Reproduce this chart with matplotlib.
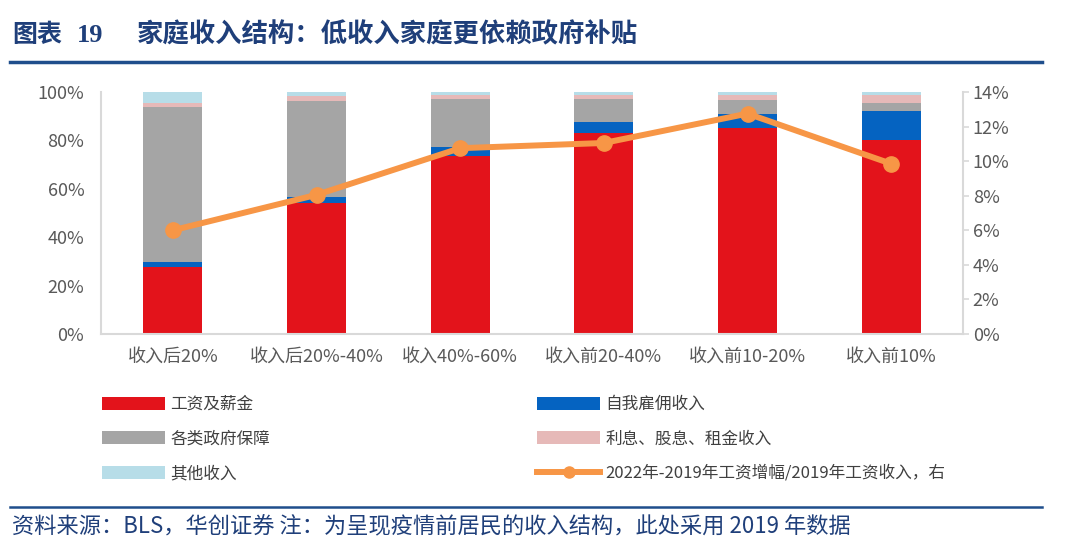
import matplotlib
matplotlib.use("Agg")
import matplotlib.pyplot as plt
from matplotlib.patches import Patch
from matplotlib.lines import Line2D
from matplotlib.ticker import PercentFormatter
import numpy as np

plt.rcParams['font.family'] = ['Liberation Sans Narrow', 'Noto Sans CJK SC', 'DejaVu Sans']

categories = ['收入后20%', '收入后20%-40%', '收入40%-60%', '收入前20-40%', '收入前10-20%', '收入前10%']
wages = [27.6, 54.0, 73.6, 82.9, 85.3, 80.2]
self_employ = [2.0, 2.7, 3.8, 4.8, 5.6, 12.1]
gov = [64.3, 39.7, 19.6, 9.5, 5.8, 3.3]
interest = [1.4, 2.1, 1.8, 1.7, 2.1, 3.2]
other = [4.7, 1.5, 1.2, 1.1, 1.2, 1.2]
wage_growth = [6.0, 8.05, 10.75, 11.05, 12.75, 9.85]

series_names = ['工资及薪金', '自我雇佣收入', '各类政府保障', '利息、股息、租金收入', '其他收入']
line_name = '2022年-2019年工资增幅/2019年工资收入，右'
colors = ['#e3131b', '#0563c1', '#a5a5a5', '#e6b9b8', '#b7dde8']
line_color = '#f79646'
tick_color = '#595959'
spine_color = '#d9d9d9'
navy = '#1f3f7a'

fig = plt.figure(figsize=(10.8, 5.55), dpi=100)
ax = fig.add_axes([101/1080, 1-334/555, (963-101)/1080, (334-92)/555])
x = np.arange(len(categories))
bottom = np.zeros(len(categories))
handles = []
for vals, c, n in zip([wages, self_employ, gov, interest, other], colors, series_names):
    ax.bar(x, vals, bottom=bottom, width=0.41, color=c, edgecolor='none', zorder=2)
    bottom += np.array(vals)
    handles.append(Patch(facecolor=c, edgecolor='none', label=n))

ax.set_xlim(-0.5, len(categories) - 0.5)
ax.set_ylim(0, 100)
ax.set_yticks(np.arange(0, 101, 20))
ax.yaxis.set_major_formatter(PercentFormatter(decimals=0))
ax.set_xticks(x)
ax.set_xticklabels(categories, fontsize=13, color=tick_color,
                   fontfamily=['Noto Sans CJK SC'])
ax.tick_params(axis='x', length=0, pad=10)
ax.tick_params(axis='y', labelsize=13, colors=tick_color, length=0, pad=12)
for s in ['top', 'right']:
    ax.spines[s].set_visible(False)
ax.spines['left'].set_color(spine_color)
ax.spines['left'].set_linewidth(1.5)
ax.spines['bottom'].set_color(spine_color)
ax.spines['bottom'].set_linewidth(1.5)

ax2 = ax.twinx()
ax2.plot(x, wage_growth, color=line_color, lw=4.3, marker='o', markersize=11, zorder=5)
ax2.set_ylim(0, 14)
ax2.set_yticks(np.arange(0, 15, 2))
ax2.yaxis.set_major_formatter(PercentFormatter(decimals=0))
ax2.tick_params(axis='y', labelsize=13, colors=tick_color, length=4, width=1.2,
                pad=3)
ax2.tick_params(axis='y', color=spine_color)
for s in ['top', 'left', 'bottom']:
    ax2.spines[s].set_visible(False)
ax2.spines['right'].set_color(spine_color)
ax2.spines['right'].set_linewidth(1.5)

line_handle = Line2D([0], [0], color=line_color, lw=4.3, marker='o', markersize=8,
                     label=line_name)

leg_kw = dict(frameon=False, handlelength=3.8, handleheight=0.8,
              handletextpad=0.3, labelspacing=1.05, borderpad=0, borderaxespad=0,
              prop={'family': ['Noto Sans CJK SC'], 'size': 12})
l1 = fig.legend(handles=[handles[0], handles[2], handles[4]], loc='upper left',
                bbox_to_anchor=(102/1080, 1-396/555), **leg_kw)
l2 = fig.legend(handles=[handles[1], handles[3], line_handle], loc='upper left',
                bbox_to_anchor=(537/1080, 1-396/555), **leg_kw)
for l in (l1, l2):
    for t in l.get_texts():
        t.set_color('#404040')

# title
fig.text(12/1080, 1-35/555, '图表', fontsize=18, fontweight='bold', color=navy,
         fontfamily=['Noto Sans CJK SC'], va='center', ha='left')
fig.text(77/1080, 1-35/555, '19', fontsize=19, fontweight='bold', color=navy,
         fontfamily=['Liberation Serif'], va='center', ha='left')
fig.text(137/1080, 1-35/555, '家庭收入结构：低收入家庭更依赖政府补贴', fontsize=19,
         fontweight='bold', color=navy, fontfamily=['Noto Sans CJK SC'],
         va='center', ha='left')
fig.add_artist(Line2D([10/1080, 1042/1080], [1-62/555, 1-62/555], color='#1f4e8c', lw=2.5))
fig.add_artist(Line2D([10/1080, 1042/1080], [1-507/555, 1-507/555], color='#1f4e8c', lw=1.8))
fig.text(12/1080, 1-527/555, '资料来源：BLS，华创证券 注：为呈现疫情前居民的收入结构，此处采用 2019 年数据',
         fontsize=16, color=navy, fontstyle='italic',
         fontfamily=['Noto Sans CJK SC'], va='center', ha='left')

fig.savefig('out.png', dpi=100)
